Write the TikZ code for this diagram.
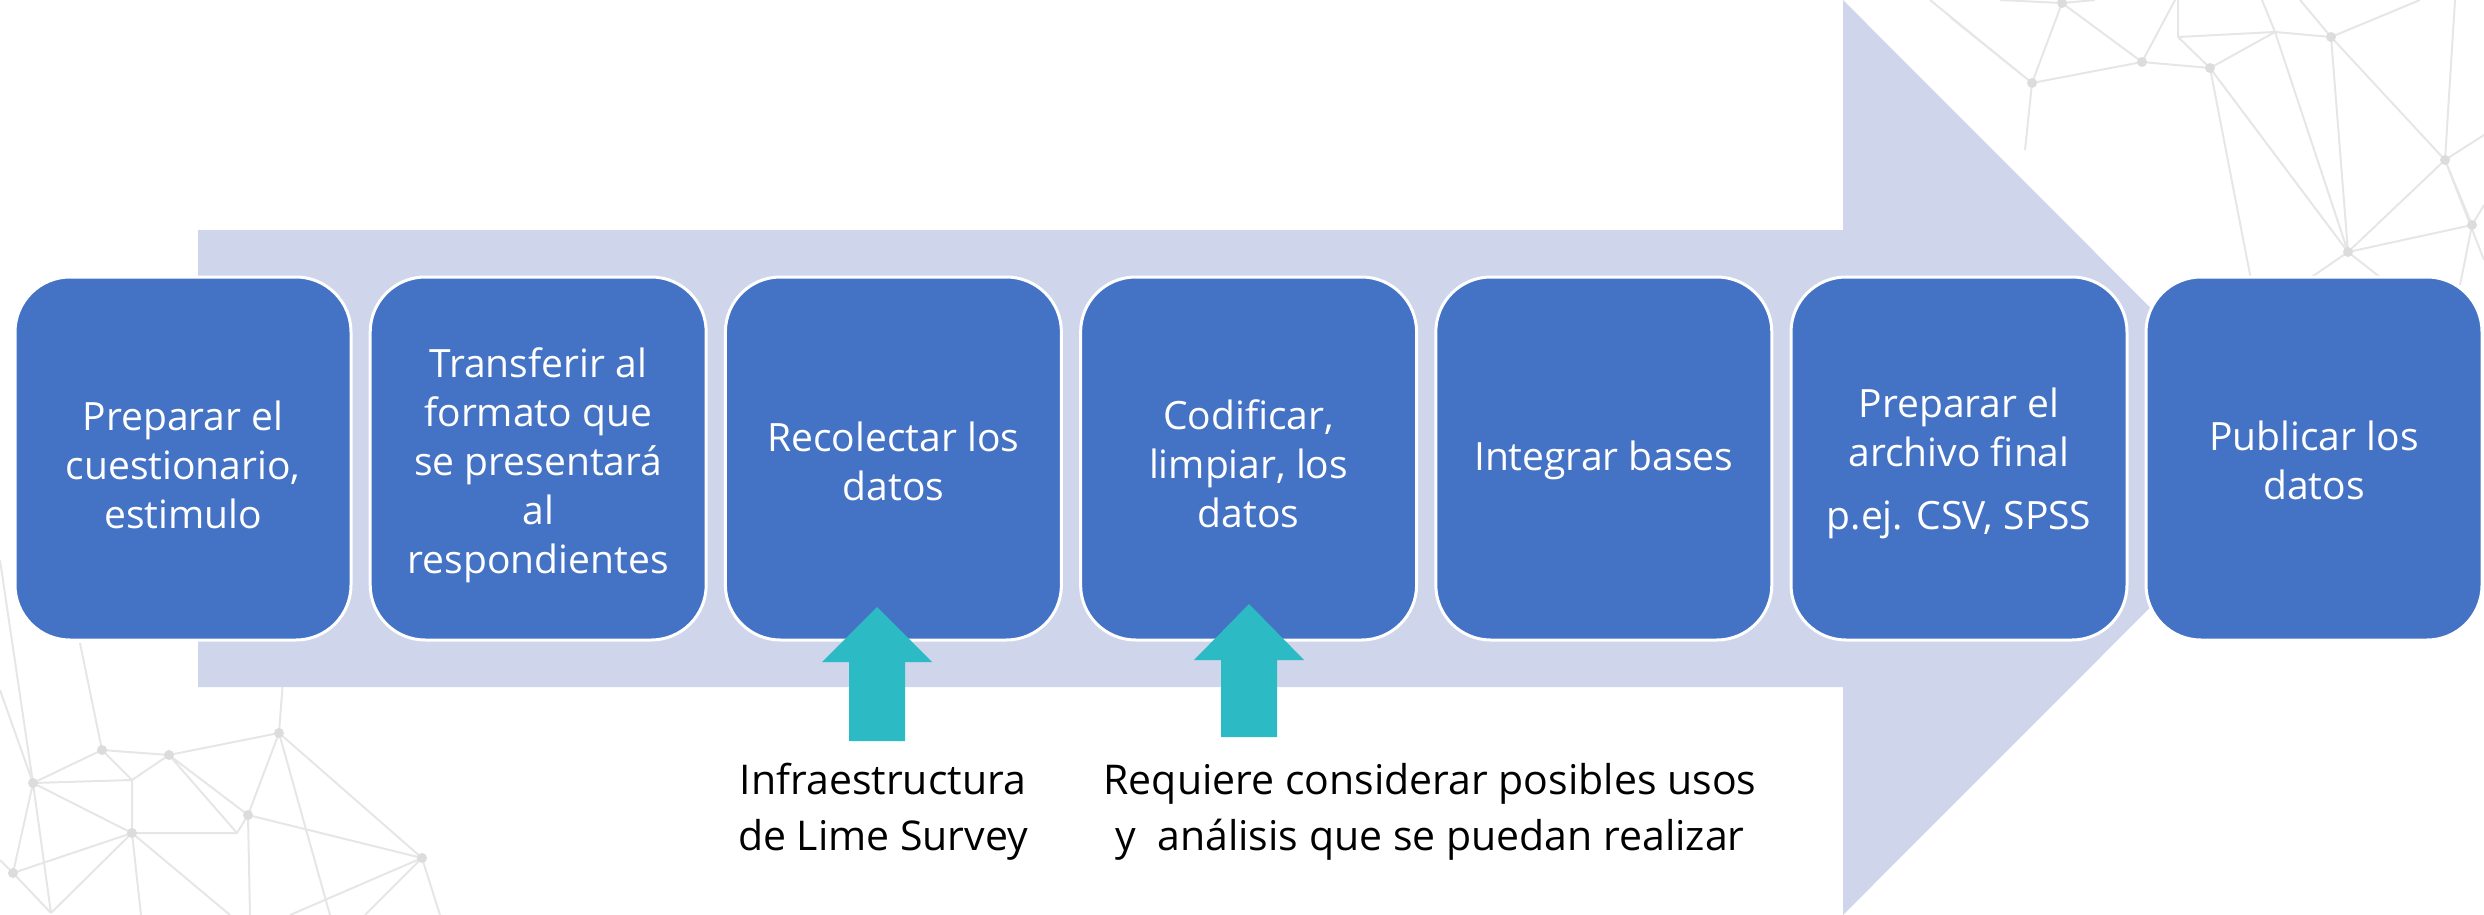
\documentclass[tikz,border=0pt]{standalone}
\usepackage{fontspec}
\setmainfont{Open Sans}
\definecolor{boxblue}{RGB}{68,114,196}
\definecolor{arrowlav}{RGB}{207,213,234}
\definecolor{teal2}{RGB}{44,186,197}
\definecolor{netline}{RGB}{230,230,230}
\definecolor{netdot}{RGB}{220,220,220}
\tikzset{
  stepbox/.style={draw=white, line width=3pt, fill=boxblue, rounded corners=55pt,
    minimum width=336pt, minimum height=363pt, inner sep=0pt},
  steptext/.style={text=white, align=center, inner sep=0pt,
    font=\fontsize{39}{49}\selectfont},
  notetext/.style={text=black, align=center, inner sep=0pt, font=\fontsize{41}{56}\selectfont},
  bigarrow/.style={fill=arrowlav, draw=none},
  uparrow/.style={fill=teal2, draw=none},
  netedge/.style={draw=netline, line width=2pt},
  netnode/.style={circle, fill=netdot, inner sep=0pt, minimum size=10pt}
}
\begin{document}
\begin{tikzpicture}[x=1pt,y=-1pt]
\useasboundingbox (0,0) rectangle (2484,915);
% ---- background network (decoration) ----
\begin{scope}
  % top right
  \coordinate (nA) at (2062,3);   \coordinate (nB) at (2142,62);
  \coordinate (nC) at (2210,68);  \coordinate (nD) at (2032,83);
  \coordinate (nE) at (2275,32);  \coordinate (nF) at (2331,37);
  \coordinate (nG) at (2445,160); \coordinate (nH) at (2472,225);
  \coordinate (nI) at (2348,252); \coordinate (nJ) at (2178,37);
  \draw[netedge] (nA)--(nB) (nA)--(nD) (nD)--(nB) (nD)--(2025,150)
    (nB)--(nC) (nB)--(2175,0) (nJ)--(2178,0) (nJ)--(nE) (nJ)--(nC)
    (nC)--(nE) (nE)--(nF) (nE)--(nI) (nC)--(nI) (nC)--(2252,285)
    (nF)--(nI) (nF)--(nG) (nF)--(2420,0) (nG)--(2455,0) (nG)--(nH)
    (nG)--(nI) (nG)--(2484,135) (nH)--(nI) (nH)--(2460,285)
    (nI)--(2300,285) (nI)--(2390,285) (nD)--(1950,17) (nD)--(1930,0)
    (nA)--(2000,0) (nE)--(2262,0) (nF)--(2300,0) (nH)--(2484,205)
    (nA)--(2095,0) (nG)--(2484,260);
  \foreach \p in {nA,nB,nC,nD,nF,nG,nH,nI} \node[netnode] at (\p) {};
  % bottom left
  \coordinate (mP) at (102,750); \coordinate (mQ) at (169,755);
  \coordinate (mR) at (279,733); \coordinate (mS) at (33,783);
  \coordinate (mT) at (132,833); \coordinate (mU) at (248,815);
  \coordinate (mV) at (422,858); \coordinate (mW) at (13,873);
  \coordinate (mX) at (51,913);  \coordinate (mK) at (132,780);
  \coordinate (mL) at (237,833);
  \draw[netedge] (mP)--(mQ) (mQ)--(mR) (mP)--(mS) (mS)--(mK) (mP)--(mK)
    (mK)--(mQ) (mR)--(283,680) (mP)--(80,643) (mS)--(0,690) (mS)--(mW)
    (mS)--(mT) (mS)--(mX) (mT)--(mW) (mT)--(mX) (mK)--(mT) (mT)--(mL)
    (mT)--(141,915) (mT)--(230,915) (mQ)--(mU) (mQ)--(mL) (mR)--(mU)
    (mR)--(mV) (mU)--(mV) (mU)--(250,915) (mL)--(mU) (mV)--(290,915)
    (mV)--(365,915) (mV)--(440,915) (mW)--(0,860) (mW)--(mX)
    (0,560)--(mS) (mR)--(330,915);
  \foreach \p in {mP,mQ,mR,mS,mT,mU,mV,mW} \node[netnode] at (\p) {};
\end{scope}
% ---- big arrow ----
\fill[bigarrow] (198,230) -- (1843,230) -- (1843,0) -- (2300,457.5)
  -- (1843,915) -- (1843,687) -- (198,687) -- cycle;
% ---- steps ----
\node[stepbox] (b1) at (183,458.5) {};
\node[stepbox] (b2) at (538.2,458.5) {};
\node[stepbox] (b3) at (893.4,458.5) {};
\node[stepbox] (b4) at (1248.6,458.5) {};
\node[stepbox] (b5) at (1603.8,458.5) {};
\node[stepbox] (b6) at (1959,458.5) {};
\node[stepbox] (b7) at (2314,458.5) {};
\node[steptext] (t1) at ([yshift=-6pt]b1.center) {Preparar el\\cuestionario,\\estimulo};
\node[steptext] (t2) at ([yshift=-7pt]b2.center) {Transferir al\\formato que\\se presentará\\al\\respondientes};
\node[steptext] (t3) at ([yshift=-3pt]b3.center) {Recolectar los\\datos};
\node[steptext] (t4) at ([yshift=-5pt]b4.center) {Codificar,\\limpiar, los\\datos};
\node[steptext] (t5) at ([yshift=-2pt]b5.center) {Integrar bases};
\node[steptext] (t6) at ([yshift=-5pt]b6.center) {Preparar el\\archivo final\\[14pt]p.ej. CSV, SPSS};
\node[steptext] (t7) at ([yshift=-2pt]b7.center) {Publicar los\\datos};
% ---- notes ----
\node[notetext] (n1) at (883,812) {Infraestructura\\de Lime Survey};
\node[notetext] (n2) at (1430,812) {Requiere considerar posibles usos\\y\ \ análisis que se puedan realizar};
% ---- teal up arrows ----
\fill[uparrow] (877,607) -- (932,662) -- (905,662) -- (905,741)
  -- (849,741) -- (849,662) -- (822,662) -- cycle;
\fill[uparrow] (1249,604) -- (1304,660) -- (1277,660) -- (1277,737)
  -- (1221,737) -- (1221,660) -- (1194,660) -- cycle;
\end{tikzpicture}
\end{document}
